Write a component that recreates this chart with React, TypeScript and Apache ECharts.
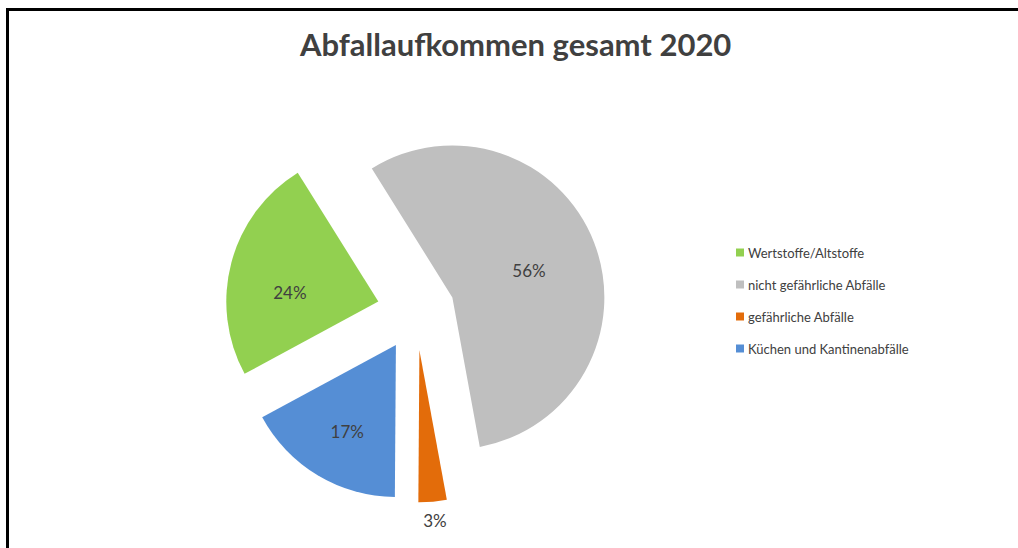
import React, { useEffect, useRef } from "react";
import * as echarts from "echarts";

const categories = [
  "Wertstoffe/Altstoffe",
  "nicht gefährliche Abfälle",
  "gefährliche Abfälle",
  "Küchen und Kantinenabfälle",
];
const shares = [24, 56, 3, 17];
const colors = ["#92D050", "#BFBFBF", "#E36C0A", "#558ED5"];
const titleText = "Abfallaufkommen gesamt 2020";

const FONT = "Lato, 'Open Sans', sans-serif";
const labelShift = [[-12, 11], [3, 2], [-15, 13], [-8, 19]];

export default function App() {
  const ref = useRef<HTMLDivElement>(null);
  useEffect(() => {
    document.body.style.margin = "0";
    const chart = echarts.init(ref.current!, null, { renderer: "svg" });
    chart.setOption({
      animation: false,
      backgroundColor: "#ffffff",
      title: {
        text: titleText,
        left: 295,
        top: 23,
        textStyle: {
          fontFamily: FONT,
          fontSize: 31,
          fontWeight: "bold",
          color: "#404040",
        },
      },
      legend: {
        orient: "vertical",
        left: 731,
        top: 241,
        icon: "rect",
        itemWidth: 8,
        itemHeight: 8,
        itemGap: 19,
        textStyle: { fontFamily: FONT, fontSize: 13, color: "#404040", padding: [0, 0, 0, -1] },
        data: categories,
      },
      graphic: [
        {
          type: "polyline",
          shape: { points: [[7.5, 548], [7.5, 9.5], [1018, 9.5]] },
          style: { stroke: "#000", lineWidth: 3, fill: "none" },
          silent: true,
        },
      ],
      series: [
        {
          type: "pie",
          center: [416, 311.5],
          radius: 152,
          startAngle: 208.4,
          clockwise: true,
          selectedMode: "multiple",
          selectedOffset: 39,
          avoidLabelOverlap: false,
          label: {
            show: true,
            position: "inside",
            formatter: "{d}%",
            fontFamily: FONT,
            fontSize: 17,
            color: "#404040",
          },
          labelLine: { show: false, length: 6, length2: 0 },
          labelLayout: (p: any) => ({
            dx: labelShift[p.dataIndex][0],
            dy: labelShift[p.dataIndex][1],
          }),
          emphasis: { disabled: true },
          select: { itemStyle: { borderWidth: 0 } },
          data: categories.map((name, i) => ({
            name,
            value: shares[i],
            selected: true,
            itemStyle: { color: colors[i], borderWidth: 0 },
            select: { itemStyle: { color: colors[i], borderWidth: 0 } },
            label: i === 2 ? { position: "outside", distance: 4 } : {},
          })),
        },
      ],
    });
    return () => chart.dispose();
  }, []);
  return <div ref={ref} style={{ width: 1018, height: 548 }} />;
}
